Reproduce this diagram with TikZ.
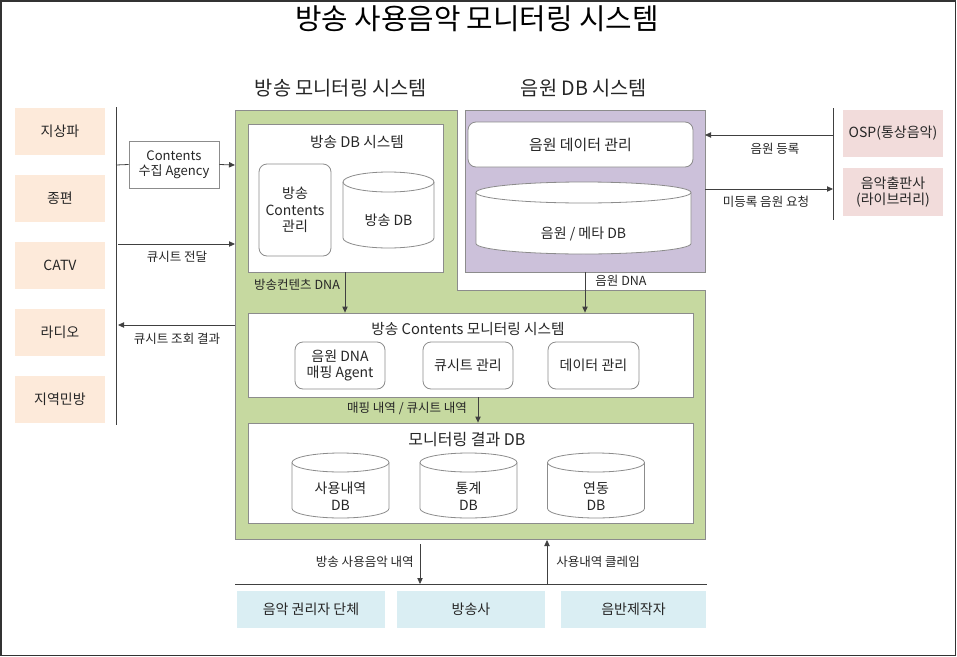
\documentclass[tikz,border=0pt]{standalone}
\usepackage{fontspec}
\setmainfont{Noto Sans CJK KR}
\usetikzlibrary{arrows.meta,calc}
\definecolor{peach}{HTML}{FDEADA}
\definecolor{pinkbox}{HTML}{F2DCDB}
\definecolor{bluebox}{HTML}{DAEEF3}
\definecolor{greenarea}{HTML}{C6D9A0}
\definecolor{purplearea}{HTML}{CCC1DA}
\definecolor{edgegray}{HTML}{8C8C8C}
\definecolor{linegray}{HTML}{404040}
\definecolor{txt}{HTML}{262626}
\newcommand{\dbcyl}[8]{%
  \path[cylst] (#2-#5,#4-#6) arc[start angle=180,end angle=360,x radius={#5*0.75pt},y radius={#6*0.75pt}] -- (#2+#5,#3+#6) arc[start angle=0,end angle=180,x radius={#5*0.75pt},y radius={#6*0.75pt}] -- cycle;
  \draw[cylline] (#2-#5,#3+#6) arc[start angle=180,end angle=360,x radius={#5*0.75pt},y radius={#6*0.75pt}];
  \node[boxtext,align=center] (#1) at (#2,#7) {#8};
}
\begin{document}
\begin{tikzpicture}[x=0.75pt,y=-0.75pt,
  boxtext/.style={font=\fontsize{10.5}{12.5}\selectfont,text=txt,inner sep=0pt},
  lbl/.style={font=\fontsize{9.4}{11}\selectfont,text=txt,inner sep=0pt},
  sidebox/.style={draw=none,minimum width=67.5pt,boxtext},
  peachbox/.style={sidebox,fill=peach,minimum height=35.25pt},
  pinkbx/.style={sidebox,fill=pinkbox,minimum width=75pt},
  bluebx/.style={sidebox,fill=bluebox,minimum height=27.75pt},
  whitebox/.style={draw=edgegray,fill=white,line width=0.6pt,inner sep=0pt},
  roundbox/.style={whitebox,rounded corners=6pt,boxtext,align=center},
  cylst/.style={draw=edgegray,fill=white,line width=0.6pt},
  cylline/.style={draw=edgegray,line width=0.6pt},
  arr/.style={draw=linegray,line width=0.6pt,-{Triangle[length=4.5pt,width=4pt]}},
  plain/.style={draw=linegray,line width=0.6pt},
  sect/.style={font=\fontsize{14.8}{17}\selectfont,text=txt,inner sep=0pt}]
\useasboundingbox (0,0) rectangle (957,657);
\draw[draw=black!80,line width=1.2pt] (1,1) rectangle (955.5,655.5);

% title
\node[font=\fontsize{21.6}{24}\selectfont,text=black,inner sep=0pt] (title) at (477,19) {방송 사용음악 모니터링 시스템};
\node[sect] (secA) at (341,88) {방송 모니터링 시스템};
\node[sect] (secB) at (584,88) {음원 DB 시스템};

% green area and purple box
\coordinate (g1) at (235,110);
\coordinate (g2) at (457,110);
\coordinate (g3) at (457,290);
\coordinate (g4) at (705,290);
\coordinate (g5) at (705,539);
\coordinate (g6) at (235,539);
\filldraw[fill=greenarea,draw=edgegray,line width=0.6pt] (g1) -- (g2) -- (g3) -- (g4) -- (g5) -- (g6) -- cycle;
\node[draw=edgegray,fill=purplearea,line width=0.6pt,minimum width=180pt,minimum height=121.5pt,inner sep=0pt] (pdb) at (585,191) {};

% left side
\node[peachbox] (b1) at (60,131.5) {지상파};
\node[peachbox] (b2) at (60,198.5) {종편};
\node[peachbox] (b3) at (60,265.5) {CATV};
\node[peachbox] (b4) at (60,332.5) {라디오};
\node[peachbox] (b5) at (60,399.5) {지역민방};
\coordinate (lt) at (116,107);
\coordinate (lb) at (116,425);
\draw[plain] (lt) -- (lb);
\node[whitebox,boxtext,align=center,font=\fontsize{9.8}{11.5}\selectfont,minimum width=67.5pt,minimum height=35.25pt] (agency) at (174,164.5) {Contents\\수집 Agency};
\coordinate (la) at (116,165);
\coordinate (ga) at (235,165);
\draw[plain] (la) -- (agency.west);
\draw[arr] (agency.east) -- (ga);
\coordinate (lq1) at (118,244);
\coordinate (gq1) at (235,244);
\draw[arr] (lq1) -- (gq1);
\node[lbl] (q1lbl) at (177,257) {큐시트 전달};
\coordinate (lq2) at (118,325);
\coordinate (gq2) at (235,325);
\draw[arr] (gq2) -- (lq2);
\node[lbl] (q2lbl) at (177,339) {큐시트 조회 결과};

% broadcast DB system
\node[whitebox,minimum width=146.25pt,minimum height=111pt] (bdb) at (345.5,198) {};
\node[boxtext,font=\fontsize{11}{12}\selectfont] (bdbt) at (357,142) {방송 DB 시스템};
\node[roundbox,minimum width=54pt,minimum height=69pt] (bcm) at (295,210) {방송\\Contents\\관리};
\dbcyl{bdbc}{388.5}{172}{248}{45.5}{10}{220}{방송 DB}

% music DB system
\node[roundbox,minimum width=168.75pt,minimum height=33.75pt,font=\fontsize{11.2}{13}\selectfont] (mdm) at (580.5,144.5) {음원 데이터 관리};
\dbcyl{mdbc}{583.5}{182}{254}{107.5}{10.5}{234}{음원 / 메타 DB}

% right side
\coordinate (rt) at (833,108);
\coordinate (rb) at (833,220);
\draw[plain] (rt) -- (rb);
\node[pinkbx,minimum height=35.25pt] (osp) at (893,133.5) {OSP(통상음악)};
\node[pinkbx,minimum height=36pt,align=center] (pub) at (893,192) {음악출판사\\(라이브러리)};
\coordinate (r1) at (833,135);
\coordinate (p1) at (705,135);
\draw[arr] (r1) -- (p1);
\node[lbl] (reglbl) at (775,149) {음원 등록};
\coordinate (p2) at (705,189);
\coordinate (r2) at (833,189);
\draw[arr] (p2) -- (r2);
\node[lbl] (reqlbl) at (766,202) {미등록 음원 요청};

% monitoring system
\node[whitebox,minimum width=333.75pt,minimum height=63pt] (mon) at (470.5,355) {};
\node[boxtext,font=\fontsize{11}{12}\selectfont] (mont) at (468,329) {방송 Contents 모니터링 시스템};
\node[roundbox,minimum width=67.5pt,minimum height=35.25pt] (agent) at (340,365.5) {음원 DNA\\매핑 Agent};
\node[roundbox,minimum width=67.5pt,minimum height=35.25pt] (cue) at (468,365.5) {큐시트 관리};
\node[roundbox,minimum width=68.25pt,minimum height=35.25pt] (dat) at (593.5,365.5) {데이터 관리};

\draw[arr] (bdb.south -| 345,0) -- (mon.north -| 345,0);
\node[lbl] (dnalbl1) at (297,285) {방송컨텐츠 DNA};
\draw[arr] (pdb.south) -- (mon.north -| pdb.south);
\node[lbl] (dnalbl2) at (621,281) {음원 DNA};

% result DB
\node[whitebox,minimum width=333.75pt,minimum height=75pt] (res) at (470.5,473) {};
\node[boxtext,font=\fontsize{12}{13}\selectfont] (rest) at (467,440) {모니터링 결과 DB};
\draw[arr] (mon.south -| 478,0) -- (res.north -| 478,0);
\node[lbl] (maplbl) at (407,408) {매핑 내역 / 큐시트 내역};
\dbcyl{c1}{340.5}{453}{518}{48.5}{9.5}{496}{사용내역\\DB}
\dbcyl{c2}{468.5}{453}{518}{48.5}{9.5}{496}{통계\\DB}
\dbcyl{c3}{596}{453}{518}{48.5}{9.5}{496}{연동\\DB}

% bottom
\coordinate (bl) at (235,584);
\coordinate (br) at (707,584);
\draw[plain] (bl) -- (br);
\coordinate (d1) at (420,544);
\coordinate (d2) at (420,584);
\draw[arr] (d1) -- (d2);
\node[lbl,anchor=east] (uselbl) at (414,562) {방송 사용음악 내역};
\coordinate (u1) at (547,584);
\coordinate (u2) at (547,540);
\draw[arr] (u1) -- (u2);
\node[lbl,anchor=west] (clmlbl) at (556,562) {사용내역 클레임};
\node[bluebx,minimum width=111pt] (rights) at (311,609.5) {음악 권리자 단체};
\node[bluebx,minimum width=111pt] (bcast) at (471,609.5) {방송사};
\node[bluebx,minimum width=108.75pt] (prod) at (633.5,609.5) {음반제작자};
\end{tikzpicture}
\end{document}
